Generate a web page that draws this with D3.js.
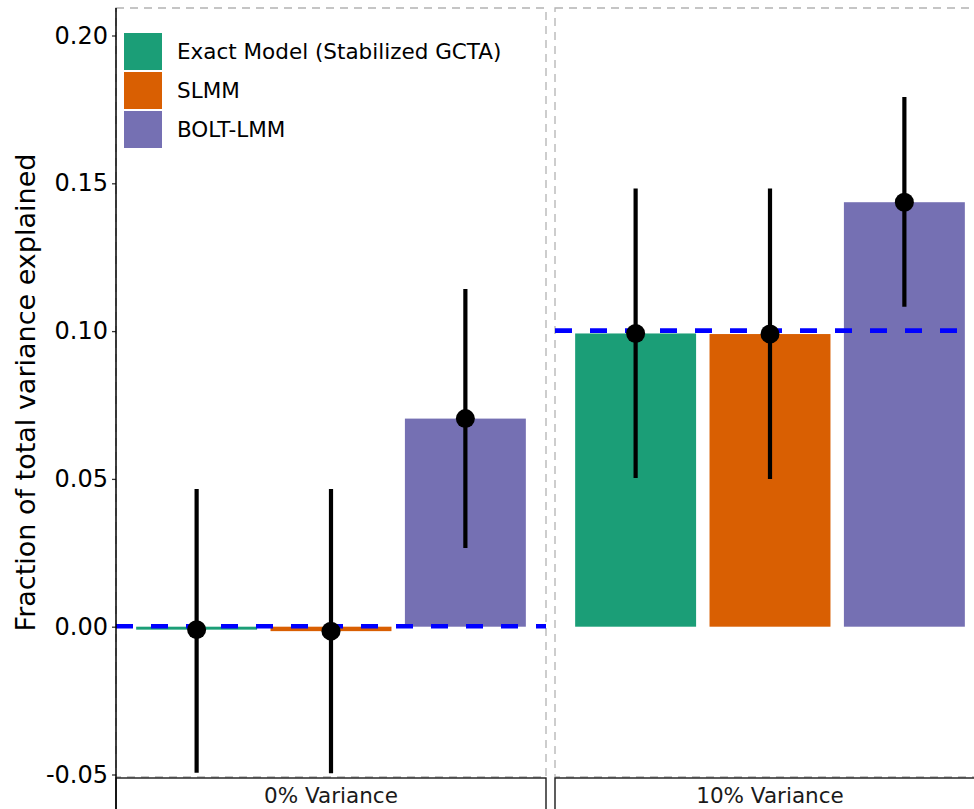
<!DOCTYPE html>
<html>
<head>
<meta charset="utf-8">
<script src="https://cdn.jsdelivr.net/npm/d3@7"></script>
<style>
  body { margin: 0; background: #fff; }
  svg { display: block; font-family: "DejaVu Sans", sans-serif; }
</style>
</head>
<body>
<div id="chart"></div>
<script>
// data
const methods = ["Exact Model (Stabilized GCTA)", "SLMM", "BOLT-LMM"];
const colors = ["#1B9E77", "#D95F02", "#7570B3"];
const panels = ["0% Variance", "10% Variance"];
const truth = [0, 0.1];
const estimate0 = [-0.0010, -0.0015, 0.0704];
const lower0 = [-0.0494, -0.0496, 0.0266];
const upper0 = [0.0466, 0.0466, 0.1142];
const estimate10 = [0.0992, 0.0990, 0.1436];
const lower10 = [0.0503, 0.0500, 0.1082];
const upper10 = [0.1482, 0.1482, 0.1792];
const yTicks = [-0.05, 0, 0.05, 0.10, 0.15, 0.20];

const estimates = [estimate0, estimate10];
const lowers = [lower0, lower10];
const uppers = [upper0, upper10];

const W = 974, H = 809;
const panelTop = 8, panelBottom = 777;
const panelW = 430;
const panelLefts = [116, 555];

const svg = d3.select("#chart").append("svg").attr("width", W).attr("height", H);

const y = d3.scaleLinear().domain([-0.05, 0.20]).range([774.5, 35.5]);

panels.forEach((p, pi) => {
  const x0 = panelLefts[pi];
  const x = d3.scaleBand().domain(methods).range([x0, x0 + panelW])
    .paddingInner(0.1).paddingOuter(0.15);
  const g = svg.append("g");

  // panel border (dashed grey)
  g.append("rect")
    .attr("x", x0).attr("y", panelTop)
    .attr("width", panelW).attr("height", panelBottom - panelTop)
    .attr("fill", "none").attr("stroke", "#b3b3b3")
    .attr("stroke-width", 1.3).attr("stroke-dasharray", "8,6");

  const rows = methods.map((m, i) => ({
    m, c: colors[i], est: estimates[pi][i], lo: lowers[pi][i], hi: uppers[pi][i]
  }));

  // bars
  g.selectAll("rect.bar").data(rows).join("rect")
    .attr("class", "bar")
    .attr("x", d => x(d.m))
    .attr("width", x.bandwidth())
    .attr("y", d => Math.min(y(d.est), y(0)))
    .attr("height", d => Math.max(Math.abs(y(d.est) - y(0)), 2.5))
    .attr("fill", d => d.c);

  // truth line
  g.append("line")
    .attr("x1", x0).attr("x2", x0 + panelW)
    .attr("y1", y(truth[pi]) - 0.5).attr("y2", y(truth[pi]) - 0.5)
    .attr("stroke", "#0000FF").attr("stroke-width", 4.6)
    .attr("stroke-dasharray", "17,18");

  // error bars
  g.selectAll("line.err").data(rows).join("line")
    .attr("class", "err")
    .attr("x1", d => x(d.m) + x.bandwidth() / 2)
    .attr("x2", d => x(d.m) + x.bandwidth() / 2)
    .attr("y1", d => y(d.lo)).attr("y2", d => y(d.hi))
    .attr("stroke", "#000").attr("stroke-width", 4.2);

  // points
  g.selectAll("circle").data(rows).join("circle")
    .attr("cx", d => x(d.m) + x.bandwidth() / 2)
    .attr("cy", d => y(d.est))
    .attr("r", 9.5).attr("fill", "#000");

  // strip
  g.append("rect")
    .attr("x", x0).attr("y", panelBottom + 1)
    .attr("width", panelW).attr("height", 40)
    .attr("fill", "#fff").attr("stroke", "#1a1a1a").attr("stroke-width", 1.4);
  g.append("text")
    .attr("x", x0 + panelW / 2).attr("y", 803)
    .attr("text-anchor", "middle")
    .attr("font-size", 21.5).attr("fill", "#1a1a1a")
    .text(p);
});

// y axis
const yAxis = svg.append("g")
  .attr("transform", `translate(${panelLefts[0]},0)`)
  .call(d3.axisLeft(y).tickValues(yTicks).tickSize(4).tickPadding(4)
    .tickFormat(d => d3.format(".2f")(d).replace("\u2212", "-")));
yAxis.select(".domain").remove();
yAxis.selectAll(".tick line").attr("stroke", "#333").attr("stroke-width", 1.3);
yAxis.selectAll(".tick text").attr("font-size", 24).attr("fill", "#000")
  .attr("font-family", "DejaVu Sans");
svg.append("line")
  .attr("x1", panelLefts[0]).attr("x2", panelLefts[0])
  .attr("y1", panelTop).attr("y2", H)
  .attr("stroke", "#000").attr("stroke-width", 1.5);

// y title
svg.append("text")
  .attr("transform", `translate(35,${(panelTop + panelBottom) / 2}) rotate(-90)`)
  .attr("text-anchor", "middle")
  .attr("font-size", 27).attr("fill", "#000")
  .text("Fraction of total variance explained");

// legend
const legend = svg.append("g");
methods.forEach((m, i) => {
  const cy = 51.5 + i * 39;
  legend.append("rect")
    .attr("x", 124).attr("y", cy - 18.5)
    .attr("width", 38).attr("height", 37)
    .attr("fill", colors[i]);
  legend.append("text")
    .attr("x", 177).attr("y", cy).attr("dy", "0.36em")
    .attr("font-size", 21.5).attr("fill", "#000")
    .text(m);
});
</script>
</body>
</html>
